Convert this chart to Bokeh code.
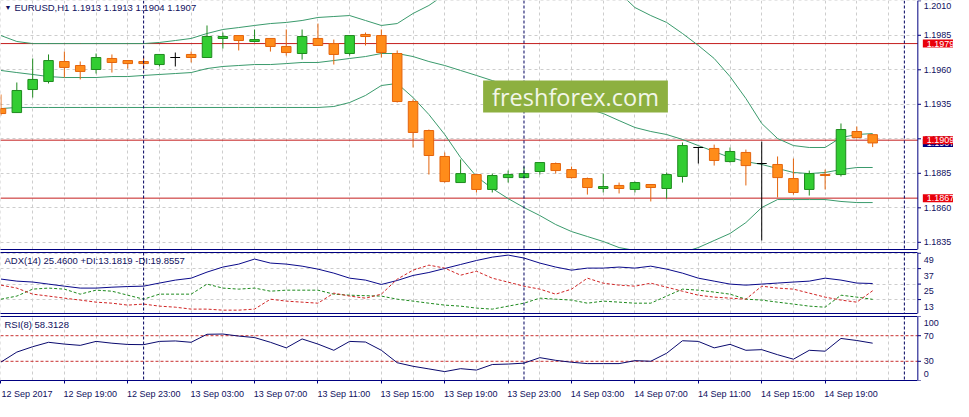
from bokeh.plotting import figure
from bokeh.layouts import column
from bokeh.models import (Range1d, LinearAxis, FixedTicker, Span, Label, ColumnDataSource,
                          BoxAnnotation)
from bokeh.core.properties import value
from bokeh.embed import file_html
from bokeh.resources import INLINE

# ---------------- data ----------------
symbol = "EURUSD,H1"
first_hour = 15  # first candle: 12 Sep 2017 15:00
x_tick_labels = ["12 Sep 2017", "12 Sep 19:00", "12 Sep 23:00", "13 Sep 03:00", "13 Sep 07:00",
                 "13 Sep 11:00", "13 Sep 15:00", "13 Sep 19:00", "13 Sep 23:00", "14 Sep 03:00",
                 "14 Sep 07:00", "14 Sep 11:00", "14 Sep 15:00", "14 Sep 19:00"]

opens = [1.19319, 1.19290, 1.19457, 1.19515, 1.19660, 1.19631, 1.19602, 1.19682, 1.19667, 1.19660,
         1.19638, 1.19689, 1.19711, 1.19689, 1.19827, 1.19848, 1.19805, 1.19827, 1.19769, 1.19718,
         1.19827, 1.19790, 1.19718, 1.19856, 1.19848, 1.19718, 1.19370, 1.19160, 1.18972, 1.18783,
         1.18841, 1.18733, 1.18819, 1.18819, 1.18863, 1.18921, 1.18877, 1.18812, 1.18740, 1.18762,
         1.18733, 1.18769, 1.18740, 1.18827, 1.19037, 1.19030, 1.18935, 1.19001, 1.18921, 1.18914,
         1.18812, 1.18733, 1.18841, 1.18841, 1.19153, 1.19130]
highs = [1.19421, 1.19508, 1.19682, 1.19711, 1.19732, 1.19660, 1.19718, 1.19711, 1.19667, 1.19696,
         1.19711, 1.19725, 1.19732, 1.19921, 1.19870, 1.19848, 1.19892, 1.19827, 1.19892, 1.19892,
         1.19935, 1.19819, 1.19848, 1.19870, 1.19892, 1.19740, 1.19385, 1.19167, 1.19001, 1.18950,
         1.18841, 1.18848, 1.18870, 1.18899, 1.18928, 1.18928, 1.18899, 1.18819, 1.18848, 1.18783,
         1.18790, 1.18769, 1.18856, 1.19073, 1.19037, 1.19058, 1.19037, 1.19022, 1.19080, 1.18972,
         1.18957, 1.18870, 1.18877, 1.19211, 1.19189, 1.19130]
lows = [1.19269, 1.19290, 1.19399, 1.19501, 1.19544, 1.19530, 1.19573, 1.19580, 1.19609, 1.19602,
        1.19624, 1.19624, 1.19653, 1.19689, 1.19754, 1.19740, 1.19798, 1.19732, 1.19703, 1.19674,
        1.19776, 1.19638, 1.19703, 1.19776, 1.19689, 1.19363, 1.19037, 1.18841, 1.18783, 1.18783,
        1.18711, 1.18711, 1.18783, 1.18819, 1.18841, 1.18848, 1.18812, 1.18696, 1.18711, 1.18704,
        1.18711, 1.18646, 1.18667, 1.18783, 1.18921, 1.18906, 1.18928, 1.18762, 1.18363, 1.18675,
        1.18696, 1.18689, 1.18733, 1.18827, 1.19102, 1.19040]
closes = [1.19283, 1.19450, 1.19530, 1.19667, 1.19617, 1.19588, 1.19689, 1.19653, 1.19645, 1.19645,
          1.19711, 1.19689, 1.19689, 1.19841, 1.19841, 1.19812, 1.19819, 1.19769, 1.19725, 1.19841,
          1.19776, 1.19711, 1.19848, 1.19841, 1.19725, 1.19370, 1.19146, 1.18979, 1.18790, 1.18848,
          1.18733, 1.18834, 1.18841, 1.18848, 1.18928, 1.18870, 1.18819, 1.18747, 1.18754, 1.18740,
          1.18783, 1.18747, 1.18841, 1.19051, 1.19037, 1.18943, 1.19008, 1.18906, 1.18921, 1.18819,
          1.18711, 1.18848, 1.18834, 1.19167, 1.19109, 1.19070]

bb_upper = [1.19848, 1.19805, 1.19790, 1.19790, 1.19790, 1.19790, 1.19790, 1.19790, 1.19790, 1.19790,
            1.19798, 1.19812, 1.19827, 1.19863, 1.19892, 1.19906, 1.19921, 1.19935, 1.19943, 1.19957,
            1.19979, 1.19986, 1.19993, 1.19957, 1.19921, 1.19935, 1.20008, 1.20066, 1.20145, 1.20225,
            1.20305, 1.20319, 1.20305, 1.20298, 1.20283, 1.20276, 1.20269, 1.20247, 1.20218, 1.20160,
            1.20051, 1.19993, 1.19943, 1.19863, 1.19776, 1.19682, 1.19551, 1.19392, 1.19211, 1.19102,
            1.19051, 1.19037, 1.19037, 1.19109, 1.19131, 1.19138]
bb_middle = [1.19595, 1.19580, 1.19566, 1.19551, 1.19544, 1.19544, 1.19544, 1.19551, 1.19551, 1.19559,
             1.19566, 1.19573, 1.19580, 1.19609, 1.19624, 1.19631, 1.19638, 1.19638, 1.19645, 1.19653,
             1.19653, 1.19667, 1.19682, 1.19696, 1.19718, 1.19718, 1.19696, 1.19660, 1.19631, 1.19595,
             1.19559, 1.19522, 1.19486, 1.19450, 1.19414, 1.19377, 1.19348, 1.19319, 1.19283, 1.19232,
             1.19182, 1.19153, 1.19131, 1.19095, 1.19051, 1.19008, 1.18964, 1.18935, 1.18914, 1.18885,
             1.18856, 1.18848, 1.18856, 1.18877, 1.18892, 1.18892]
bb_lower = [1.19319, 1.19327, 1.19327, 1.19327, 1.19327, 1.19327, 1.19327, 1.19327, 1.19327, 1.19327,
            1.19327, 1.19327, 1.19327, 1.19327, 1.19327, 1.19327, 1.19327, 1.19327, 1.19327, 1.19327,
            1.19327, 1.19334, 1.19363, 1.19414, 1.19486, 1.19501, 1.19399, 1.19276, 1.19131, 1.18964,
            1.18827, 1.18740, 1.18667, 1.18602, 1.18544, 1.18479, 1.18428, 1.18392, 1.18356, 1.18312,
            1.18291, 1.18276, 1.18269, 1.18276, 1.18312, 1.18363, 1.18414, 1.18493, 1.18602, 1.18660,
            1.18660, 1.18660, 1.18660, 1.18646, 1.18638, 1.18638]

levels = [1.1979, 1.1909, 1.1867]
price_ticks = [1.1835, 1.1860, 1.1885, 1.1910, 1.1935, 1.1960, 1.1985, 1.2010]

adx = [28.9, 27.3, 26.6, 25.0, 23.4, 21.9, 21.9, 22.6, 23.1, 23.4,
       25.8, 28.1, 29.6, 34.3, 38.2, 40.5, 44.4, 41.3, 40.5, 38.9,
       36.6, 33.5, 29.6, 28.1, 24.7, 27.8, 31.7, 34.0, 37.1, 40.2,
       43.3, 45.9, 47.5, 45.2, 41.3, 38.2, 35.8, 37.4, 37.4, 38.2,
       37.4, 38.9, 36.6, 33.5, 29.6, 27.3, 25.0, 24.2, 25.0, 25.8,
       26.6, 27.3, 29.6, 28.1, 25.8, 25.46]
plus_di = [13.3, 15.7, 21.1, 21.9, 21.1, 17.2, 20.3, 19.5, 16.4, 13.3,
           17.2, 17.2, 17.2, 25.0, 21.9, 21.1, 21.9, 19.5, 20.3, 20.3,
           20.3, 17.2, 16.4, 16.0, 15.7, 13.3, 11.8, 10.2, 8.7, 7.9,
           6.4, 5.6, 7.9, 10.2, 14.1, 13.3, 12.6, 10.2, 11.8, 11.0,
           10.2, 10.2, 15.7, 21.1, 20.3, 18.8, 17.2, 13.3, 12.6, 11.0,
           9.5, 7.9, 7.1, 16.4, 14.9, 13.18]
minus_di = [24.2, 21.9, 17.2, 15.7, 14.1, 12.6, 11.0, 10.2, 8.7, 9.5,
            7.9, 7.1, 5.6, 5.6, 4.8, 4.8, 5.6, 13.3, 11.8, 11.0,
            10.2, 18.0, 15.7, 14.1, 17.2, 28.8, 35.8, 39.7, 37.4, 31.9,
            35.0, 29.6, 26.5, 23.4, 21.1, 17.2, 21.1, 29.6, 25.7, 24.2,
            23.4, 25.7, 22.6, 19.5, 16.4, 14.9, 14.1, 13.3, 23.4, 21.9,
            21.1, 18.0, 14.9, 12.6, 11.0, 19.86]
adx_levels = [49, 37, 25, 13]

rsi = [28.8, 44.4, 52.8, 59.7, 56.9, 54.9, 61.1, 58.3, 56.3, 56.0,
       61.1, 61.8, 59.7, 72.2, 72.6, 69.4, 67.1, 59.7, 51.0, 64.9,
       56.9, 47.2, 61.1, 60.1, 47.2, 27.8, 22.2, 18.1, 13.9, 18.5,
       16.3, 25.0, 25.7, 27.1, 35.7, 31.5, 28.5, 26.4, 26.4, 26.4,
       31.0, 30.1, 42.6, 62.1, 61.1, 51.0, 56.5, 47.2, 48.2, 40.3,
       33.3, 47.2, 45.8, 65.7, 62.5, 58.31]
rsi_scale = [100, 70, 30, 0]
rsi_levels = [70, 30]

# ---------------- styling constants ----------------
W = 953
NAVY = "#000080"
TXT = "#10105e"
FONT = "Liberation Sans"
GRID = "#cdcdcd"

hours = list(range(len(opens)))
grid_hours = list(range(0, 58, 2))
tick_hours = list(range(0, len(opens), 4))
day_breaks = [h for h in range(0, 58) if (first_hour + h) % 24 == 0]

AXIS_X = 57.85          # where the price scale starts (after the chart shift gap)
xr = Range1d(-0.03, 60.1)
LAB_SHIFT = 1.64        # half a date label, so labels start at their tick as in MT4


def line_only(ax):
    ax.ticker = FixedTicker(ticks=[])
    ax.bounds = (xr.start, AXIS_X)
    ax.axis_line_color = NAVY
    ax.major_tick_line_color = None
    ax.minor_tick_line_color = None
    ax.major_tick_out = 0
    ax.major_tick_in = 0
    ax.minor_tick_out = 0
    ax.minor_tick_in = 0
    ax.major_label_standoff = 0


def make_fig(height, yr, top, bottom):
    p = figure(width=W, height=height, x_range=xr, y_range=yr, output_backend="svg",
               toolbar_location=None, tools="", y_axis_location=None,
               min_border_left=0, min_border_right=0, min_border_top=top, min_border_bottom=bottom)
    p.outline_line_color = None
    p.background_fill_color = "white"
    p.border_fill_color = "white"
    p.xgrid.ticker = FixedTicker(ticks=grid_hours)
    p.xgrid.grid_line_color = GRID
    p.xgrid.grid_line_dash = "3 3"
    p.ygrid.grid_line_color = GRID
    p.ygrid.grid_line_dash = "3 3"
    for d in day_breaks:
        p.add_layout(Span(location=d, dimension="height", line_color="#000060",
                          line_dash="3 2", line_width=1))
    # blank strip for the scale on the right
    p.add_layout(BoxAnnotation(left=AXIS_X, fill_color="white", fill_alpha=1.0,
                               line_color=None, level="underlay"))
    p.add_layout(Span(location=AXIS_X, dimension="height", line_color=NAVY, line_width=1))
    return p


def scale_labels(p, ticks, labels, offsets):
    p.segment(x0=AXIS_X, x1=AXIS_X + 0.2, y0=ticks, y1=ticks, line_color=NAVY, line_width=1)
    p.text(x=[AXIS_X] * len(ticks), y=ticks, text=labels, x_offset=6, y_offset=offsets,
           text_font=value(FONT), text_font_size=value("9px"), text_color=TXT,
           text_baseline="middle", text_align="left")


# ---------------- main price panel ----------------
p1 = make_fig(250, Range1d(1.18298, 1.20102), 0, 1)
p1.ygrid.ticker = FixedTicker(ticks=price_ticks)
line_only(p1.below[0])
scale_labels(p1, price_ticks, [f"{t:.4f}" for t in price_ticks],
             [5 if t == max(price_ticks) else 0 for t in price_ticks])

p1.segment(x0=xr.start, x1=AXIS_X, y0=levels, y1=levels, line_color="#c41e1e", line_width=1)

p1.line(hours, bb_upper, line_color="#3a9a6c", line_width=1)
p1.line(hours, bb_middle, line_color="#3a9a6c", line_width=1)
p1.line(hours, bb_lower, line_color="#3a9a6c", line_width=1)

fills, lines, tops, bottoms = [], [], [], []
for o, c in zip(opens, closes):
    if c > o:
        fills.append("#32cd32"); lines.append("#1e8a1e")
    elif c < o:
        fills.append("#ff8c1a"); lines.append("#e4640c")
    else:
        fills.append("#000000"); lines.append("#000000")
    tops.append(max(o, c)); bottoms.append(min(o, c))

src = ColumnDataSource(dict(x=hours, h=highs, l=lows, top=tops, bottom=bottoms, fill=fills, line=lines))
p1.segment(x0="x", y0="h", x1="x", y1="l", line_color="line", line_width=1, source=src)
p1.vbar(x="x", width=0.6, top="top", bottom="bottom", fill_color="fill", line_color="line",
        line_width=1, source=src)

top_price = p1.y_range.end
p1.add_layout(Label(x=xr.start, y=top_price, x_offset=4, y_offset=-7, text="▼",
                    text_font=FONT, text_font_size="7px", text_color=TXT, text_baseline="middle"))
p1.add_layout(Label(x=xr.start, y=top_price, x_offset=14, y_offset=-7,
                    text=f"{symbol}  {opens[-1]:.4f} {highs[-1]:.4f} {lows[-1]:.4f} {closes[-1]:.4f}",
                    text_font=FONT, text_font_size="9.5px", text_color=TXT, text_baseline="middle"))

# watermark
p1.add_layout(Label(x=36.25, y=1.19406, text="freshforex.com", text_font="Open Sans",
                    text_font_size="23.5px", text_color="#f2f6e8", text_align="center",
                    text_baseline="middle", background_fill_color="#8db040",
                    padding=dict(left=9, right=9, top=0, bottom=0)))

# price boxes on the price scale
p1.add_layout(Label(x=AXIS_X, y=closes[-1], x_offset=5, text=f"{closes[-1]:.4f}", text_font=FONT,
                    text_font_size="9px", text_color="white", text_baseline="middle",
                    background_fill_color=NAVY, padding=dict(left=4, right=8, top=1, bottom=1)))
for lv in levels:
    p1.add_layout(Label(x=AXIS_X, y=lv, x_offset=5, text=f"{lv:.4f}", text_font=FONT,
                        text_font_size="9px", text_color="white", text_baseline="middle",
                        background_fill_color="#e8000a", padding=dict(left=4, right=8, top=1, bottom=1)))

# ---------------- ADX panel ----------------
p2 = make_fig(64, Range1d(2.2, 49.5), 2, 1)
p2.ygrid.ticker = FixedTicker(ticks=adx_levels)
line_only(p2.below[0])
ax_top = LinearAxis()
line_only(ax_top)
p2.add_layout(ax_top, "above")
scale_labels(p2, adx_levels, [str(v) for v in adx_levels], [7] * len(adx_levels))

p2.line(hours, adx, line_color="#0a0a8a", line_width=1)
p2.line(hours, plus_di, line_color="#1e8a1e", line_width=1, line_dash="3 2")
p2.line(hours, minus_di, line_color="#d02424", line_width=1, line_dash="3 2")
p2.add_layout(Label(x=xr.start, y=p2.y_range.end, x_offset=4, y_offset=-8,
                    text=f"ADX(14) {adx[-1]:.4f} +DI:13.1819 -DI:19.8557",
                    text_font=FONT, text_font_size="9.5px", text_color=TXT, text_baseline="middle"))

# ---------------- RSI panel ----------------
p3 = make_fig(87, Range1d(0, 100), 2, 17)
p3.ygrid.grid_line_color = None
# time axis: labels start at their tick (MT4 style), the tick marks are drawn as minor ticks
p3.extra_x_ranges = {"labels": Range1d(xr.start - LAB_SHIFT, xr.end - LAB_SHIFT)}
xax3 = p3.below[0]
xax3.x_range_name = "labels"
xax3.ticker = FixedTicker(ticks=tick_hours, minor_ticks=[t - LAB_SHIFT for t in tick_hours])
xax3.major_label_overrides = dict(zip(tick_hours, x_tick_labels))
xax3.bounds = (xr.start - LAB_SHIFT, AXIS_X - LAB_SHIFT)
xax3.axis_line_color = NAVY
xax3.major_tick_line_color = None
xax3.major_tick_out = 0
xax3.major_tick_in = 0
xax3.minor_tick_line_color = NAVY
xax3.minor_tick_out = 3
xax3.minor_tick_in = 0
xax3.major_label_text_font = FONT
xax3.major_label_text_font_size = "9px"
xax3.major_label_text_color = TXT
xax3.major_label_standoff = 5
ax_top3 = LinearAxis()
line_only(ax_top3)
p3.add_layout(ax_top3, "above")
scale_labels(p3, rsi_scale, [str(v) for v in rsi_scale], [6, 0, 0, -7])

p3.segment(x0=xr.start, x1=AXIS_X, y0=rsi_levels, y1=rsi_levels, line_color="#c83030",
           line_dash="3 2", line_width=1)
p3.line(hours, rsi, line_color="#0a0a6e", line_width=1)
p3.add_layout(Label(x=xr.start, y=100, x_offset=4, y_offset=-8, text="RSI(8) 58.3128",
                    text_font=FONT, text_font_size="9.5px", text_color=TXT, text_baseline="middle"))

layout = column(p1, p2, p3)
open("out.html", "w").write(file_html(layout, INLINE))
